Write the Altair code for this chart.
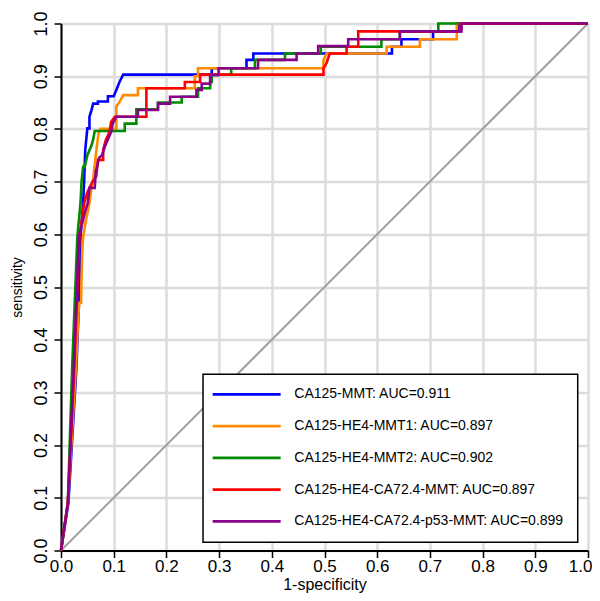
import altair as alt
import pandas as pd

# ---- data -------------------------------------------------------------
series_names = ["CA125-MMT", "CA125-HE4-MMT1", "CA125-HE4-MMT2",
                "CA125-HE4-CA72.4-MMT", "CA125-HE4-CA72.4-p53-MMT"]
auc_values = [0.911, 0.897, 0.902, 0.897, 0.899]
colors = ["#0000FF", "#FF8C00", "#008B00", "#FF0000", "#8B008B"]

blue_fpr = [0, 0.014, 0.029, 0.034, 0.037, 0.042, 0.044, 0.046, 0.050, 0.054, 0.054, 0.058, 0.061,
            0.070, 0.070, 0.089, 0.089, 0.100, 0.105, 0.111, 0.118, 0.286, 0.286, 0.352, 0.352,
            0.365, 0.365, 0.628, 0.628, 0.646, 0.646, 0.706, 0.706, 0.753, 0.753, 1.0]
blue_tpr = [0, 0.090, 0.342, 0.469, 0.595, 0.659, 0.703, 0.760, 0.801, 0.801, 0.823, 0.836, 0.848,
            0.848, 0.852, 0.852, 0.862, 0.862, 0.874, 0.889, 0.903, 0.903, 0.915, 0.915, 0.931,
            0.931, 0.943, 0.943, 0.956, 0.956, 0.970, 0.970, 0.985, 0.985, 1.0, 1.0]

orange_fpr = [0, 0.013, 0.028, 0.033, 0.035, 0.038, 0.040, 0.042, 0.048, 0.054, 0.058, 0.061,
              0.066, 0.071, 0.075, 0.080, 0.105, 0.105, 0.111, 0.118, 0.146, 0.146, 0.254, 0.254,
              0.260, 0.260, 0.498, 0.498, 0.504, 0.618, 0.618, 0.681, 0.681, 0.751, 0.751, 1.0]
orange_tpr = [0, 0.090, 0.342, 0.450, 0.470, 0.470, 0.560, 0.595, 0.630, 0.659, 0.690, 0.705,
              0.750, 0.790, 0.800, 0.800, 0.800, 0.842, 0.851, 0.864, 0.864, 0.877, 0.877, 0.900,
              0.900, 0.915, 0.915, 0.930, 0.943, 0.943, 0.956, 0.956, 0.970, 0.970, 1.0, 1.0]

green_fpr = [0, 0.013, 0.021, 0.026, 0.031, 0.037, 0.039, 0.042, 0.045, 0.050, 0.058, 0.061,
             0.064, 0.121, 0.121, 0.143, 0.143, 0.184, 0.184, 0.229, 0.229, 0.260, 0.260, 0.283,
             0.283, 0.286, 0.286, 0.323, 0.323, 0.368, 0.368, 0.425, 0.425, 0.493, 0.493, 0.608,
             0.608, 0.643, 0.643, 0.716, 0.716, 1.0]
green_tpr = [0, 0.090, 0.342, 0.469, 0.595, 0.659, 0.700, 0.728, 0.728, 0.750, 0.769, 0.780,
             0.796, 0.796, 0.810, 0.810, 0.837, 0.837, 0.850, 0.850, 0.861, 0.861, 0.877, 0.877,
             0.889, 0.889, 0.903, 0.903, 0.915, 0.915, 0.931, 0.931, 0.943, 0.943, 0.956, 0.956,
             0.970, 0.970, 0.985, 0.985, 1.0, 1.0]

red_fpr = [0, 0.013, 0.025, 0.030, 0.035, 0.044, 0.050, 0.055, 0.060, 0.067, 0.070, 0.080,
           0.080, 0.085, 0.092, 0.095, 0.102, 0.162, 0.162, 0.235, 0.235, 0.264, 0.264, 0.498,
           0.498, 0.504, 0.510, 0.542, 0.542, 0.564, 0.564, 0.757, 0.757, 1.0]
red_tpr = [0, 0.090, 0.342, 0.469, 0.595, 0.659, 0.680, 0.690, 0.700, 0.710, 0.741, 0.741,
           0.760, 0.779, 0.794, 0.813, 0.823, 0.823, 0.877, 0.877, 0.889, 0.889, 0.903, 0.903,
           0.915, 0.925, 0.943, 0.943, 0.956, 0.956, 0.985, 0.985, 1.0, 1.0]

purple_fpr = [0, 0.013, 0.024, 0.029, 0.034, 0.045, 0.051, 0.054, 0.064, 0.066, 0.069, 0.072,
              0.078, 0.083, 0.089, 0.095, 0.098, 0.105, 0.146, 0.146, 0.184, 0.184, 0.207, 0.207,
              0.257, 0.257, 0.267, 0.267, 0.283, 0.283, 0.299, 0.299, 0.374, 0.374, 0.447, 0.447,
              0.488, 0.488, 0.545, 0.545, 0.643, 0.643, 0.760, 0.760, 1.0]
purple_tpr = [0, 0.090, 0.342, 0.469, 0.595, 0.640, 0.660, 0.688, 0.688, 0.720, 0.730, 0.745,
              0.750, 0.766, 0.780, 0.794, 0.810, 0.823, 0.823, 0.836, 0.836, 0.848, 0.848, 0.861,
              0.861, 0.874, 0.874, 0.886, 0.886, 0.902, 0.902, 0.915, 0.915, 0.931, 0.931, 0.943,
              0.943, 0.957, 0.957, 0.970, 0.970, 0.985, 0.985, 1.0, 1.0]

diag_x = [0.0, 1.0]
diag_y = [0.0, 1.0]
tick_values = [0.0, 0.1, 0.2, 0.3, 0.4, 0.5, 0.6, 0.7, 0.8, 0.9, 1.0]

# ---- tables -----------------------------------------------------------
curves = [(blue_fpr, blue_tpr), (orange_fpr, orange_tpr), (green_fpr, green_tpr),
          (red_fpr, red_tpr), (purple_fpr, purple_tpr)]
rows = []
for name, (fx, ty) in zip(series_names, curves):
    for i, (a, b) in enumerate(zip(fx, ty)):
        rows.append({"series": name, "i": i, "fpr": a, "tpr": b})
roc = pd.DataFrame(rows)

legend_df = pd.DataFrame({
    "series": series_names,
    "label": [f"{n}: AUC={a:.3f}" for n, a in zip(series_names, auc_values)],
    "row": list(range(len(series_names))),
})
diag_df = pd.DataFrame({"fpr": diag_x, "tpr": diag_y})

FONT = "Liberation Sans"
xscale = alt.Scale(domain=[0, 1], nice=False, zero=False)
yscale = alt.Scale(domain=[0, 1], nice=False, zero=False)
cscale = alt.Scale(domain=series_names, range=colors)

xaxis = alt.Axis(values=tick_values, format=".1f", grid=True, gridColor="#DCDCDC",
                 gridWidth=2.5, domainColor="black", domainWidth=2, tickColor="black",
                 tickSize=7, tickWidth=1.5, labelFontSize=17, labelFont=FONT,
                 labelColor="black", labelPadding=1, labelFlush=False, labelOverlap=False,
                 labelAlign={"condition": {"test": "datum.value >= 1", "value": "right"},
                             "value": "center"},
                 labelOffset={"condition": {"test": "datum.value >= 1", "value": 4},
                              "value": 0},
                 title="1-specificity", titleFont=FONT, titleFontSize=16,
                 titleFontWeight="normal", titleColor="black", titleX=263.5, titleY=33.5,
                 titleBaseline="middle", titleAlign="center")
yaxis = alt.Axis(values=tick_values, format=".1f", grid=True, gridColor="#DCDCDC",
                 gridWidth=2.5, domainColor="black", domainWidth=2, tickColor="black",
                 tickSize=7, tickWidth=1.5, labelFontSize=18, labelFont=FONT,
                 labelColor="black", labelPadding=4, labelAngle=270, labelAlign="center",
                 labelBaseline="bottom", labelOverlap=False, labelFlush=False,
                 title="sensitivity", titleFont=FONT, titleFontSize=14,
                 titleFontWeight="normal", titleColor="black", titleAngle=270,
                 titleX=-44, titleY=263.5, titleAlign="center", titleBaseline="middle")

diag = alt.Chart(diag_df).mark_line(color="#A0A0A0", strokeWidth=2).encode(
    x=alt.X("fpr:Q", scale=xscale, axis=xaxis),
    y=alt.Y("tpr:Q", scale=yscale, axis=yaxis),
)

layers = [diag]
for name in series_names:
    layers.append(
        alt.Chart(roc).transform_filter(alt.datum.series == name)
        .mark_line(strokeWidth=2.6, strokeJoin="miter")
        .encode(
            x=alt.X("fpr:Q", scale=xscale),
            y=alt.Y("tpr:Q", scale=yscale),
            color=alt.Color("series:N", scale=cscale, legend=None),
            order=alt.Order("i:Q"),
        )
    )

# manual legend (layout in axis units)
box = alt.Chart(pd.DataFrame({"a": [0]})).transform_calculate(
    x1="0.2695", x2="0.9805", y1="0.0157", y2="0.3343"
).mark_rect(fill="white", stroke="black", strokeWidth=1.5).encode(
    x=alt.X("x1:Q", scale=xscale), x2="x2:Q",
    y=alt.Y("y1:Q", scale=yscale), y2="y2:Q",
)
leg_base = alt.Chart(legend_df).transform_calculate(
    ly="0.2963 - 0.06025 * datum.row", lx1="0.2878", lx2="0.4168", tx="0.4427"
)
leg_lines = leg_base.mark_rule(strokeWidth=2.6).encode(
    x=alt.X("lx1:Q", scale=xscale), x2="lx2:Q",
    y=alt.Y("ly:Q", scale=yscale),
    color=alt.Color("series:N", scale=cscale, legend=None),
)
leg_text = leg_base.mark_text(align="left", baseline="middle", fontSize=14,
                              font=FONT, color="black").encode(
    x=alt.X("tx:Q", scale=xscale),
    y=alt.Y("ly:Q", scale=yscale),
    text="label:N",
)

chart = alt.layer(*layers, box, leg_lines, leg_text).properties(
    width=527, height=527,
    autosize=alt.AutoSizeParams(type="none"),
    padding={"left": 53, "top": 15.5, "right": 4, "bottom": 42},
).configure_view(stroke=None).configure(background="white")

chart.save("out.html", embed_options={"renderer": "svg", "actions": False})
